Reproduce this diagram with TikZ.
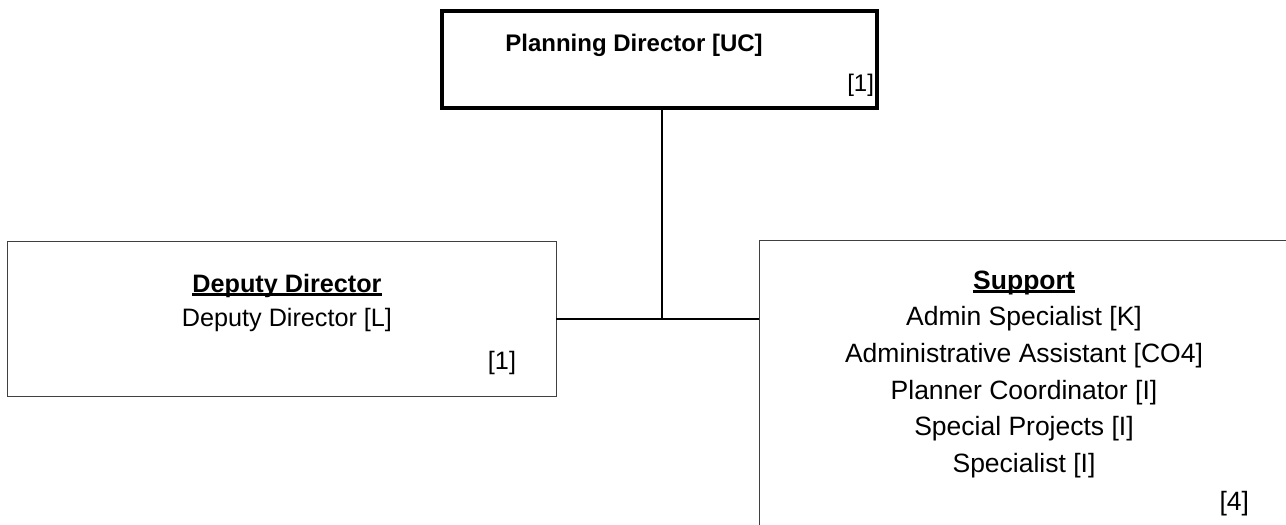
\documentclass[tikz,border=0pt]{standalone}
\usepackage{fontspec}
\setmainfont{Liberation Sans}
\usetikzlibrary{calc}
\newcommand\myul[1]{\setbox0\hbox{#1}\rlap{\rule[-3.5pt]{\wd0}{2.2pt}}\box0}
\begin{document}
\begin{tikzpicture}[x=1pt,y=-1pt,
  every node/.style={font=\fontsize{24.5}{30}\selectfont, inner sep=0pt, outer sep=0pt},
  topbox/.style={draw=black, line width=4.5pt, rectangle, fill=none},
  unitbox/.style={draw=black!75, line width=1pt, rectangle, fill=none},
  link/.style={draw=black, line width=2pt},
  lbl/.style={anchor=base},
  cnt/.style={anchor=base east},
  ddfont/.style={font=\fontsize{25.2}{30}\selectfont},
  ddhead/.style={font=\fontsize{25.2}{30}\selectfont\bfseries},
  spfont/.style={font=\fontsize{26.5}{30}\selectfont},
  sphead/.style={font=\fontsize{26.5}{30}\selectfont\bfseries}]
\useasboundingbox (0,0) rectangle (1286,525);
\clip (0,0) rectangle (1286,525);
\fill[white] (0,0) rectangle (1286,525);
% boxes
\node[topbox, minimum width=435pt, minimum height=97pt] (pd) at (659.5,59.5) {};
\node[unitbox, minimum width=549pt, minimum height=155pt] (dd) at (281.5,318.5) {};
\node[unitbox, minimum width=540pt, minimum height=300pt] (sup) at (1029,390) {};
% texts
\node[lbl, font=\fontsize{24}{30}\selectfont\bfseries] (pdt) at (634,51) {Planning Director [UC]};
\node[cnt, font=\fontsize{24}{30}\selectfont] (pdn) at (874,91) {[1]};
\node[lbl, ddhead] (ddh) at (287,292) {\myul{Deputy Director}};
\node[lbl, ddfont] (dd1) at (287,326) {Deputy Director [L]};
\node[cnt, ddfont] (ddn) at (516,369) {[1]};
\node[lbl, sphead] (suph) at (1024,289) {\myul{Support}};
\node[lbl, spfont] (sup1) at (1024,325) {Admin Specialist [K]};
\node[lbl, spfont] (sup2) at (1024,362) {Administrative Assistant [CO4]};
\node[lbl, spfont] (sup3) at (1024,399) {Planner Coordinator [I]};
\node[lbl, spfont] (sup4) at (1024,435) {Special Projects [I]};
\node[lbl, spfont] (sup5) at (1024,472) {Specialist [I]};
\node[cnt, spfont] (supn) at (1249,510) {[4]};
% connectors
\coordinate (jn) at ($(pd.south)+(2.5,0)$);
\draw[link] (pd.south -| jn) -- (jn |- dd.east);
\draw[link] (dd.east) -- (dd.east -| sup.west);
\end{tikzpicture}
\end{document}
